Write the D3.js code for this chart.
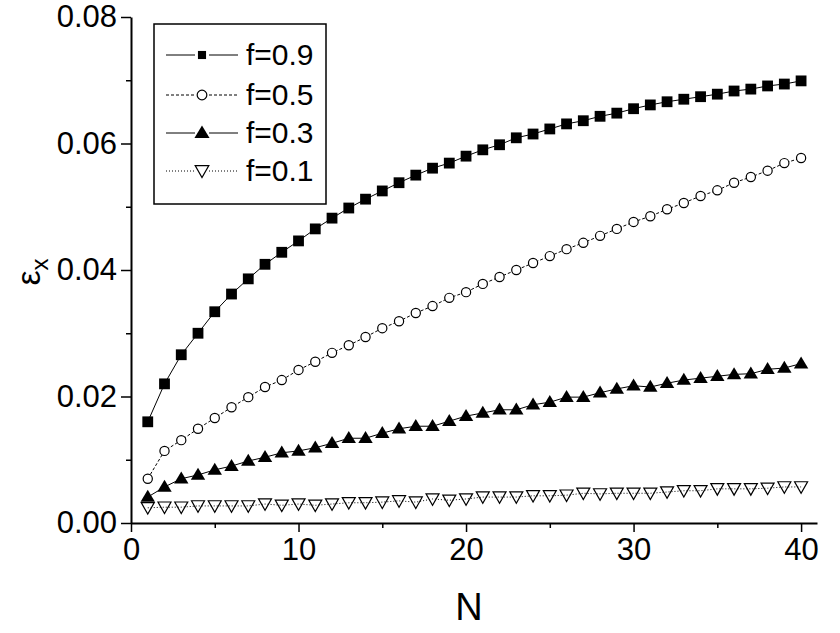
<!DOCTYPE html>
<html>
<head>
<meta charset="utf-8">
<script src="https://cdn.jsdelivr.net/npm/d3@7"></script>
<style>
  html, body { margin: 0; padding: 0; background: #fff; }
  svg { display: block; }
  text { font-family: "Liberation Sans", Arial, sans-serif; fill: #000; }
</style>
</head>
<body>
<svg id="chart" width="840" height="633"></svg>
<script>
// ---- data ----
const N = d3.range(1, 41);
const f09 = [0.0160,0.0220,0.0266,0.0300,0.0334,0.0362,0.0386,0.0409,0.0428,0.0446,
             0.0465,0.0482,0.0498,0.0512,0.0525,0.0538,0.0550,0.0561,0.0569,0.0580,
             0.0590,0.0598,0.0609,0.0615,0.0623,0.0631,0.0636,0.0643,0.0648,0.0655,
             0.0661,0.0666,0.0670,0.0674,0.0678,0.0683,0.0686,0.0691,0.0694,0.0699];
const f05 = [0.0070,0.0114,0.0131,0.0149,0.0166,0.0183,0.0199,0.0215,0.0226,0.0242,
             0.0255,0.0269,0.0281,0.0294,0.0308,0.0319,0.0332,0.0343,0.0356,0.0365,
             0.0378,0.0389,0.0400,0.0411,0.0422,0.0433,0.0443,0.0454,0.0465,0.0476,
             0.0485,0.0496,0.0506,0.0517,0.0526,0.0538,0.0547,0.0557,0.0569,0.0577];
const f03 = [0.0041,0.0057,0.0070,0.0076,0.0084,0.0090,0.0098,0.0104,0.0111,0.0114,
             0.0119,0.0126,0.0134,0.0134,0.0142,0.0149,0.0153,0.0153,0.0161,0.0169,
             0.0174,0.0179,0.0179,0.0187,0.0191,0.0199,0.0199,0.0206,0.0212,0.0217,
             0.0215,0.0221,0.0226,0.0229,0.0232,0.0235,0.0236,0.0243,0.0245,0.0252];
const f01 = [0.0024,0.0025,0.0025,0.0027,0.0027,0.0027,0.0027,0.0030,0.0028,0.0030,
             0.0028,0.0030,0.0032,0.0032,0.0033,0.0035,0.0033,0.0038,0.0036,0.0038,
             0.0041,0.0041,0.0041,0.0043,0.0043,0.0044,0.0047,0.0046,0.0047,0.0047,
             0.0047,0.0049,0.0051,0.0051,0.0054,0.0054,0.0054,0.0055,0.0057,0.0057];
const seriesNames = ["f=0.9", "f=0.5", "f=0.3", "f=0.1"];
const xTicks = [0, 10, 20, 30, 40];
const xMinor = [5, 15, 25, 35];
const yTicks = [0.00, 0.02, 0.04, 0.06, 0.08];
const yMinor = [0.01, 0.03, 0.05, 0.07];

// ---- layout ----
const svg = d3.select("#chart");
const x = d3.scaleLinear().domain([0, 40.95]).range([131, 817]);
const y = d3.scaleLinear().domain([0, 0.08]).range([523, 17]);

const series = [
  { name: seriesNames[0], values: f09, dash: null,  marker: "square" },
  { name: seriesNames[1], values: f05, dash: "3,2", marker: "circle" },
  { name: seriesNames[2], values: f03, dash: null,  marker: "up" },
  { name: seriesNames[3], values: f01, dash: "1,2", marker: "down" }
];

function drawMarker(g, type, cx, cy, scale) {
  const s = scale || 1;
  if (type === "square") {
    const h = 5.4 * s;
    g.append("rect").attr("x", cx - h).attr("y", cy - h).attr("width", 2*h).attr("height", 2*h)
      .attr("fill", "#000");
  } else if (type === "circle") {
    g.append("circle").attr("cx", cx).attr("cy", cy).attr("r", 4.6 * s)
      .attr("fill", "#fff").attr("stroke", "#000").attr("stroke-width", 1.2);
  } else if (type === "up") {
    const w = 7.2 * s, h = 12 * s;
    g.append("path")
      .attr("d", `M${cx},${cy - h*0.6}L${cx + w},${cy + h*0.4}L${cx - w},${cy + h*0.4}Z`)
      .attr("fill", "#000");
  } else if (type === "down") {
    const w = 6.5 * s, h = 11.5 * s;
    g.append("path")
      .attr("d", `M${cx - w},${cy - h*0.45}L${cx + w},${cy - h*0.45}L${cx},${cy + h*0.55}Z`)
      .attr("fill", "none").attr("stroke", "#000").attr("stroke-width", 1.2);
  }
}

// ---- series ----
const line = d3.line().x((d, i) => x(N[i])).y(d => y(d));
const plot = svg.append("g");
series.forEach(s => {
  plot.append("path").datum(s.values)
    .attr("d", line)
    .attr("fill", "none").attr("stroke", "#000").attr("stroke-width", 1)
    .attr("stroke-dasharray", s.dash);
});
series.forEach(s => {
  const g = plot.append("g");
  s.values.forEach((v, i) => drawMarker(g, s.marker, x(N[i]), y(v)));
});

// ---- axes ----
const xAxis = svg.append("g").attr("transform", `translate(0,${y(0)})`)
  .call(d3.axisBottom(x).tickValues(xTicks).tickSize(9).tickSizeOuter(0).tickPadding(6).tickFormat(d3.format("d")));
svg.append("g").attr("transform", `translate(0,${y(0)})`)
  .call(d3.axisBottom(x).tickValues(xMinor).tickSize(5).tickSizeOuter(0).tickFormat(""))
  .select(".domain").remove();
const yAxis = svg.append("g").attr("transform", `translate(${x(0)},0)`)
  .call(d3.axisLeft(y).tickValues(yTicks).tickSize(10).tickSizeOuter(0).tickPadding(4).tickFormat(d3.format(".2f")));
svg.append("g").attr("transform", `translate(${x(0)},0)`)
  .call(d3.axisLeft(y).tickValues(yMinor).tickSize(5).tickSizeOuter(0).tickFormat(""))
  .select(".domain").remove();

svg.selectAll(".domain").attr("stroke", "#000").attr("stroke-width", 2);
svg.selectAll(".tick line").attr("stroke", "#000").attr("stroke-width", 1.5);
xAxis.selectAll("text").attr("font-size", 31).attr("fill", "#000")
  .style("font-family", "Liberation Sans, Arial, sans-serif");
yAxis.selectAll("text").attr("font-size", 31).attr("fill", "#000")
  .style("font-family", "Liberation Sans, Arial, sans-serif");
svg.selectAll(".tick text").attr("stroke", "none");

// axis titles
svg.append("text").attr("x", (x(0) + x(40)) / 2 + 3).attr("y", 620)
  .attr("text-anchor", "middle").attr("font-size", 38).text("N");
const yt = svg.append("text").attr("transform", "translate(40,272) rotate(-90)")
  .attr("text-anchor", "middle").attr("font-size", 34);
yt.append("tspan").text("ε");
yt.append("tspan").attr("font-size", 24).attr("dy", 8).text("x");

// ---- legend ----
const lg = svg.append("g");
lg.append("rect").attr("x", 154).attr("y", 24).attr("width", 172).attr("height", 180)
  .attr("fill", "#fff").attr("stroke", "#000").attr("stroke-width", 1.5);
const rowY = [55, 95, 133, 171];
series.forEach((s, i) => {
  const ry = rowY[i];
  [[166, 195], [209, 238]].forEach(([a, b]) => {
    lg.append("line").attr("x1", a).attr("x2", b).attr("y1", ry).attr("y2", ry)
      .attr("stroke", "#000").attr("stroke-width", 1).attr("stroke-dasharray", s.dash);
  });
  drawMarker(lg, s.marker, 202, ry, s.marker === "square" ? 0.75 : 1.05);
  lg.append("text").attr("x", 246).attr("y", ry + 10).attr("font-size", 30).text(s.name);
});
</script>
</body>
</html>
